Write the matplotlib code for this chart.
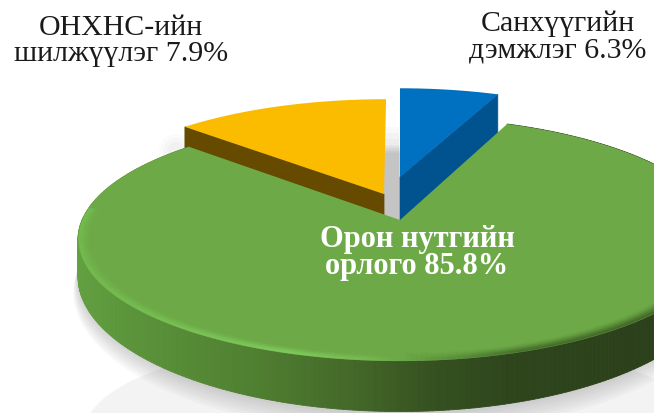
import numpy as np
import matplotlib
matplotlib.use("Agg")
import matplotlib.pyplot as plt
from matplotlib.collections import PolyCollection, LineCollection
from matplotlib.patches import Ellipse, Polygon
from matplotlib.path import Path
from matplotlib.transforms import Transform

# Slice shares as drawn in the picture (clockwise from the top)
slice_names = ["Санхүүгийн дэмжлэг", "Орон нутгийн орлого", "ОНХНС-ийн шилжүүлэг"]
drawn_shares = [6.3, 80.6, 13.1]
label_percents = [6.3, 85.8, 7.9]
top_colors = ["#0070C0", "#6DA947", "#FBBC00"]
side_colors = ["#01538F", "#4E7D2F", "#654A00"]

W, H = 654, 414
X0, Y0, A, B, K, DEPTH = 400.0, 221.0, 318.0, 119.0, 0.156, 36.0


def project(u, v, drop=0.0):
    w = 1 + K * np.asarray(v)
    return X0 + A * np.asarray(u) / w, Y0 - B * np.asarray(v) / w + np.asarray(drop) * DEPTH / w**2


class PiePerspective(Transform):
    input_dims = output_dims = 2
    has_inverse = False
    is_separable = False

    def transform_non_affine(self, values):
        x, y = project(values[:, 0], values[:, 1])
        return np.column_stack([x, y])

    def transform_path_non_affine(self, path):
        poly = Path(path.vertices * 600, path.codes).to_polygons(closed_only=False)[0] / 600
        return Path(self.transform_non_affine(poly))


def ring(r, drop=0.0, n=360):
    t = np.linspace(0, 2 * np.pi, n)
    x, y = project(r * np.cos(t), r * np.sin(t), drop)
    return np.column_stack([x, y])


plt.rcParams["font.family"] = ["Liberation Serif", "DejaVu Serif"]
fig = plt.figure(figsize=(W / 100, H / 100), dpi=100)
ax = fig.add_axes([0, 0, 1, 1])
wedges, _ = ax.pie(drawn_shares, colors=top_colors, startangle=90, counterclock=False)
ax.set_aspect("auto")
ax.set_xlim(0, W)
ax.set_ylim(H, 0)
ax.axis("off")

persp = PiePerspective() + ax.transData
centers = [(0.0, 0.383), (0.0, 0.0), (-0.052, 0.226)]
radii = [0.955, 1.0, 0.98]
z_levels = [3.0, 4.0, 3.3]
# how far the cut faces of the two small slices reach down: (at apex, at rim)
cut_drops = {0: (1.6, 1.6), 2: (1.0, 1.0)}

# reflection and soft shadow behind the pie
ax.add_patch(Ellipse((395, 432), 620, 190, color="#F3F3F3", lw=0, zorder=1))
for i in range(1, 8):
    ax.add_patch(Polygon(ring(1.0 + 0.002 * i, 1 + 0.055 * i), color="#808080", alpha=0.05, lw=0, zorder=1.2))
for y0, a in zip([128, 134, 140, 146, 152], [0.03, 0.03, 0.03, 0.015, 0.0]):
    ax.fill_between([384, 399], y0, 222, color="#7F7F7F", alpha=a + 0.015, lw=0, zorder=1.3)
for size, a in [(34, 0.03), (26, 0.04), (18, 0.04)]:
    ax.add_patch(Ellipse((176, 152), size, size, color="#808080", alpha=a, lw=0, zorder=1.3))

# side walls
for idx, (wedge, c, r) in enumerate(zip(wedges, centers, radii)):
    t = np.radians(np.linspace(wedge.theta1, wedge.theta2, 361))
    u, v = c[0] + r * np.cos(t), c[1] + r * np.sin(t)
    z = z_levels[idx]
    if idx == 1:
        x1, y1 = project(u, v)
        x2, y2 = project(u, v, 1.0)
        quads = [[(x1[i], y1[i]), (x1[i + 1], y1[i + 1]), (x2[i + 1], y2[i + 1]), (x2[i], y2[i])]
                 for i in range(len(t) - 1)]
        xm = (x1[:-1] + x1[1:]) / 2
        stops = [78, 130, 250, 350, 430, 510, 654]
        reds = [0x62, 0x5B, 0x50, 0x44, 0x36, 0x2E, 0x2B]
        grns = [0xA0, 0x94, 0x80, 0x69, 0x52, 0x45, 0x40]
        blus = [0x40, 0x3A, 0x31, 0x29, 0x20, 0x1C, 0x1B]
        cols = np.column_stack([np.interp(xm, stops, s) / 255 for s in (reds, grns, blus)])
        ax.add_collection(PolyCollection(quads, facecolors=cols, edgecolors=cols, linewidths=0.6, zorder=z))
    else:
        edge_t = t[-1] if idx == 2 else t[0]
        ex, ey = c[0] + r * np.cos(edge_t), c[1] + r * np.sin(edge_t)
        x, y = project(np.array([c[0], ex]), np.array([c[1], ey]))
        xd, yd = project(np.array([c[0], ex]), np.array([c[1], ey]), np.array(cut_drops[idx]))
        ax.add_patch(Polygon([(x[0], y[0]), (x[1], y[1]), (xd[1], yd[1]), (xd[0], yd[0])],
                             color=side_colors[idx], lw=0.5, zorder=z))
    wedge.set_center(c)
    wedge.set_radius(r)
    wedge.set_transform(persp)
    wedge.set_linewidth(0)
    wedge.set_zorder(z + 0.1)
    wedge.set_clip_on(True)

# soft bevel along the rim of the large slice
g = wedges[1]
t = np.radians(np.linspace(g.theta1, g.theta2, 361))
for r in np.linspace(0.955, 0.996, 14):
    x, y = project(r * np.cos(t), r * np.sin(t))
    pts = np.column_stack([x, y])
    segs = np.stack([pts[:-1], pts[1:]], axis=1)
    xm = (x[:-1] + x[1:]) / 2
    stops = [70, 130, 290, 370, 430, 520, 654]
    reds = [0x78, 0x78, 0x84, 0x78, 0x60, 0x40, 0x38]
    grns = [0xC4, 0xC4, 0xD2, 0xBC, 0x98, 0x66, 0x58]
    blus = [0x54, 0x54, 0x62, 0x54, 0x3E, 0x28, 0x22]
    cols = np.column_stack([np.interp(xm, stops, s) / 255 for s in (reds, grns, blus)])
    alpha = ((r - 0.95) / 0.046) ** 2 * 0.55
    mask = np.sin((t[:-1] + t[1:]) / 2) < 0.1
    cols = np.column_stack([cols, np.where(mask, alpha, 0.0)])
    ax.add_collection(LineCollection(segs, colors=cols, linewidths=1.2, zorder=5.5, capstyle="butt"))

ax.text(121, 41, f"ОНХНС-ийн\nшилжүүлэг {label_percents[2]}%", ha="center", va="center",
        fontsize=21.5, color="#1A1A1A", linespacing=1.04, zorder=7)
ax.text(558, 37, f"Санхүүгийн\nдэмжлэг {label_percents[0]}%", ha="center", va="center",
        fontsize=21.5, color="#1A1A1A", linespacing=1.06, zorder=7)
ax.text(417, 253, f"Орон нутгийн\nорлого {label_percents[1]}%", ha="center", va="center",
        fontsize=22, fontweight="bold", color="#FFFFFF", linespacing=0.93, zorder=7)

fig.savefig("out.png", dpi=100)
